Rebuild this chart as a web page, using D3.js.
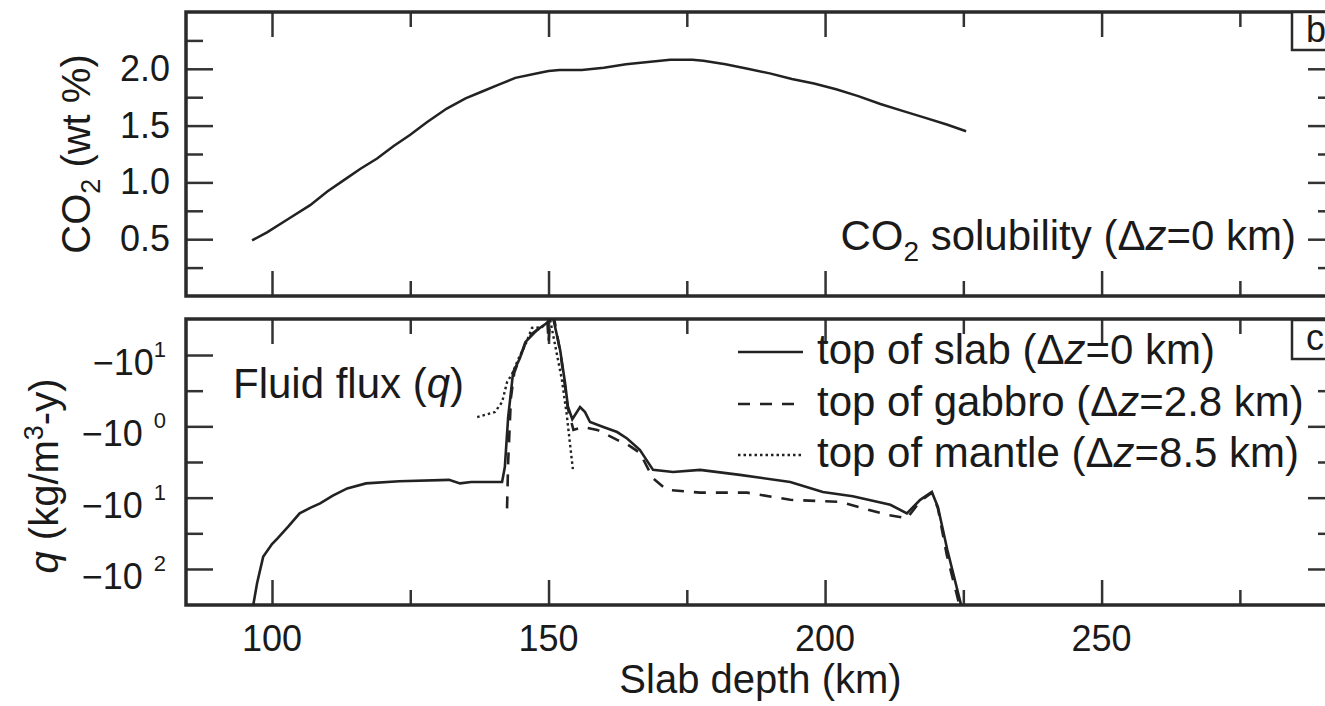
<!DOCTYPE html>
<html>
<head>
<meta charset="utf-8">
<script src="https://cdn.jsdelivr.net/npm/d3@7"></script>
<style>
  body { margin: 0; background: #fff; }
  svg text { font-family: "Liberation Sans", Arial, sans-serif; fill: #1a1a1a; }
</style>
</head>
<body>
<div id="chart"></div>
<script>
// CO2 solubility, panel b
var co2Depth = [96.4, 99.1, 103, 106.9, 110, 113, 116, 119, 122, 125, 128, 131.6, 135, 138, 141, 144, 148, 150, 152, 156, 160, 164, 168, 172, 176, 178, 182, 186, 190, 194, 198, 202, 206, 210, 214, 218, 222, 225.5];
var co2Wt    = [0.49, 0.56, 0.68, 0.80, 0.92, 1.02, 1.12, 1.21, 1.32, 1.42, 1.53, 1.65, 1.74, 1.80, 1.86, 1.92, 1.96, 1.98, 1.99, 1.99, 2.01, 2.04, 2.06, 2.08, 2.08, 2.07, 2.04, 2.00, 1.96, 1.91, 1.87, 1.82, 1.76, 1.69, 1.63, 1.57, 1.51, 1.45];

// fluid flux, panel c (log10 of |q|)
var slabDepth = [96.4, 97.3, 98.4, 100, 101, 103, 105, 107, 108.7, 111, 113.6, 117, 123, 132, 134, 136, 141.6, 142.1, 142.7, 143.6, 144.8, 145.8, 147.9, 149.9, 150.6, 152.1, 153, 153.5, 154.3, 155.7, 156.6, 157.5, 159.9, 162.4, 164.2, 166.5, 168.9, 172.5, 177.4, 184.6, 193.7, 199.6, 205, 211.8, 214.8, 217.2, 219.3, 220.4, 222.1, 224.9];
var slabLogQ  = [-2.6, -2.2, -1.83, -1.65, -1.57, -1.4, -1.22, -1.14, -1.08, -0.97, -0.87, -0.8, -0.77, -0.75, -0.8, -0.78, -0.78, -0.57, 0.13, 0.76, 0.95, 1.18, 1.35, 1.46, 1.6, 1.07, 0.6, 0.28, 0.1, 0.27, 0.2, 0.06, -0.01, -0.08, -0.17, -0.33, -0.61, -0.64, -0.61, -0.68, -0.78, -0.92, -0.98, -1.1, -1.22, -1.03, -0.92, -1.13, -1.73, -2.6];

var gabbroDepth = [142.5, 142.7, 143.2, 143.8, 145, 146, 147, 148.5, 149.8, 150.0, 150.3, 151, 152.2, 153, 153.5, 154.5, 156.2, 158.8, 162.4, 164.2, 166.5, 168.9, 171.4, 177.4, 185.9, 193.7, 202.7, 211.2, 214.8, 217.2, 219.3, 220.4, 222, 224.6];
var gabbroLogQ  = [-1.15, -0.5, 0.4, 0.75, 1.0, 1.2, 1.3, 1.38, 1.46, 1.18, 1.5, 1.52, 1.0, 0.55, 0.25, -0.05, -0.01, -0.05, -0.19, -0.25, -0.37, -0.73, -0.89, -0.93, -0.93, -1.03, -1.06, -1.24, -1.29, -1.05, -0.93, -1.15, -1.8, -2.6];

var mantleDepth = [137.1, 140.3, 141.6, 142.5, 143.4, 144.5, 145.8, 147, 148.8, 150.3, 152.4, 153.3, 153.9, 154.4];
var mantleLogQ  = [0.13, 0.2, 0.34, 0.62, 0.73, 0.94, 1.14, 1.38, 1.39, 1.49, 0.66, 0.16, -0.26, -0.6];

var xMajor = [100, 150, 200, 250];
var xMinor = [125, 175, 225, 275];
var co2Major = [0.5, 1.0, 1.5, 2.0];
var co2Minor = [0.25, 0.75, 1.25, 1.75, 2.25];
var qMajor = [1, 0, -1, -2];
var qSup = ["1", "\u20020", "\u20021", "\u20022"];
var qMinor = [0.5, -0.5, -1.5];

var width = 1325, height = 706;
var left = 186, right = 1335;

var svg = d3.select("#chart").append("svg")
            .attr("width", width)
            .attr("height", height);

var x = d3.scaleLinear().domain([84.45, 292.2]).range([left, right]);
var yTop = d3.scaleLinear().domain([0, 2.5]).range([296, 12]);
var yBot = d3.scaleLinear().domain([-2.505, 1.505]).range([605, 319]);

function ticks(g, axis) {
  g.call(axis);
  g.select(".domain").remove();
  g.selectAll(".tick line").attr("stroke", "#333").attr("stroke-width", 2.5);
  g.selectAll(".tick text").remove();
}

// frames, ticks
function panel(top, bottom, cls) {
  svg.append("defs").append("clipPath").attr("id", cls)
     .append("rect").attr("x", left).attr("y", top).attr("width", right - left).attr("height", bottom - top);

  ticks(svg.append("g").attr("transform", "translate(0," + bottom + ")"),
        d3.axisTop(x).tickValues(xMajor).tickSize(25));
  ticks(svg.append("g").attr("transform", "translate(0," + bottom + ")"),
        d3.axisTop(x).tickValues(xMinor).tickSize(15));
  ticks(svg.append("g").attr("transform", "translate(0," + top + ")"),
        d3.axisBottom(x).tickValues(xMajor).tickSize(25));
  ticks(svg.append("g").attr("transform", "translate(0," + top + ")"),
        d3.axisBottom(x).tickValues(xMinor).tickSize(15));
}

panel(12, 296, "clipTop");
panel(319, 605, "clipBot");

// y ticks
[[co2Major, 27], [co2Minor, 17]].forEach(function(t) {
  ticks(svg.append("g").attr("transform", "translate(" + left + ",0)"),
        d3.axisRight(yTop).tickValues(t[0]).tickSize(t[1]));
  ticks(svg.append("g").attr("transform", "translate(" + right + ",0)"),
        d3.axisLeft(yTop).tickValues(t[0]).tickSize(t[1]));
});
[[qMajor, 27], [qMinor, 17]].forEach(function(t) {
  ticks(svg.append("g").attr("transform", "translate(" + left + ",0)"),
        d3.axisRight(yBot).tickValues(t[0]).tickSize(t[1]));
  ticks(svg.append("g").attr("transform", "translate(" + right + ",0)"),
        d3.axisLeft(yBot).tickValues(t[0]).tickSize(t[1]));
});

[[12, 296], [319, 605]].forEach(function(p) {
  svg.append("rect")
     .attr("x", left).attr("y", p[0])
     .attr("width", right - left).attr("height", p[1] - p[0])
     .attr("fill", "none").attr("stroke", "#2a2a2a").attr("stroke-width", 3.5);
});

// tick labels
svg.selectAll(".co2lab").data(co2Major).enter().append("text")
   .attr("x", 170).attr("y", function(d){ return yTop(d) + 12; })
   .attr("text-anchor", "end").style("font-size", "36px")
   .text(function(d){ return d.toFixed(1); });

var ql = svg.selectAll(".qlab").data(qMajor).enter().append("text")
   .attr("x", 166).attr("y", function(d){ return yBot(d) + 20; })
   .attr("text-anchor", "end").style("font-size", "36px")
   .style("white-space", "pre");
ql.append("tspan").text("\u221210");
ql.append("tspan").attr("dy", -18).style("font-size", "22px")
  .text(function(d, i){ return qSup[i]; });

svg.selectAll(".xlab").data(xMajor).enter().append("text")
   .attr("x", function(d){ return x(d); }).attr("y", 651)
   .attr("text-anchor", "middle").style("font-size", "36px")
   .text(function(d){ return d; });

svg.append("text").attr("x", (left + right) / 2).attr("y", 693)
   .attr("text-anchor", "middle").style("font-size", "40px")
   .text("Slab depth (km)");

// y titles
var t1 = svg.append("text").attr("transform", "translate(90,154) rotate(-90)")
   .attr("text-anchor", "middle").style("font-size", "40px");
t1.append("tspan").text("CO");
t1.append("tspan").attr("dy", 10).style("font-size", "27px").text("2");
t1.append("tspan").attr("dy", -10).text(" (wt %)");

var t2 = svg.append("text").attr("transform", "translate(58,476) rotate(-90)")
   .attr("text-anchor", "middle").style("font-size", "40px");
t2.append("tspan").style("font-style", "italic").text("q");
t2.append("tspan").text(" (kg/m");
t2.append("tspan").attr("dy", -15).style("font-size", "27px").text("3");
t2.append("tspan").attr("dy", 15).text("-y)");

// lines
var line = function(y) {
  return d3.line().x(function(d){ return x(d[0]); }).y(function(d){ return y(d[1]); });
};

svg.append("path")
   .attr("clip-path", "url(#clipTop)")
   .attr("d", line(yTop)(d3.zip(co2Depth, co2Wt)))
   .attr("fill", "none").attr("stroke", "#222").attr("stroke-width", 2.5);

var series = [
  {depth: slabDepth, q: slabLogQ, dash: null, w: 2.6},
  {depth: gabbroDepth, q: gabbroLogQ, dash: "12,10", w: 2.6},
  {depth: mantleDepth, q: mantleLogQ, dash: "2.5,3", w: 2.4}
];
series.forEach(function(s) {
  svg.append("path")
     .attr("clip-path", "url(#clipBot)")
     .attr("d", line(yBot)(d3.zip(s.depth, s.q)))
     .attr("fill", "none").attr("stroke", "#222")
     .attr("stroke-width", s.w)
     .attr("stroke-dasharray", s.dash);
});

// annotations
var a1 = svg.append("text").attr("x", 1296).attr("y", 250)
   .attr("text-anchor", "end").style("font-size", "42px");
a1.append("tspan").text("CO");
a1.append("tspan").attr("dy", 11).style("font-size", "28px").text("2");
a1.append("tspan").attr("dy", -11).text(" solubility (\u0394");
a1.append("tspan").style("font-style", "italic").text("z");
a1.append("tspan").text("=0 km)");

var a2 = svg.append("text").attr("x", 233).attr("y", 398).style("font-size", "42px");
a2.append("tspan").text("Fluid flux (");
a2.append("tspan").style("font-style", "italic").text("q");
a2.append("tspan").text(")");

var legendNames = ["top of slab", "top of gabbro", "top of mantle"];
var legendDz = ["0", "2.8", "8.5"];
var legendY = [352, 404, 455];
series.forEach(function(s, i) {
  svg.append("line").attr("x1", 738).attr("x2", 803)
     .attr("y1", legendY[i]).attr("y2", legendY[i])
     .attr("stroke", "#222").attr("stroke-width", s.w)
     .attr("stroke-dasharray", s.dash);
  var t = svg.append("text").attr("x", 817).attr("y", legendY[i] + 12).style("font-size", "42px");
  t.append("tspan").text(legendNames[i] + " (\u0394");
  t.append("tspan").style("font-style", "italic").text("z");
  t.append("tspan").text("=" + legendDz[i] + " km)");
});

// panel letters
[["b", 12, 38], ["c", 320, 39]].forEach(function(p) {
  svg.append("rect").attr("x", 1292).attr("y", p[1]).attr("width", 60).attr("height", p[2])
     .attr("fill", "#fff").attr("stroke", "#2a2a2a").attr("stroke-width", 2.5);
  svg.append("text").attr("x", 1306).attr("y", p[1] + 30).style("font-size", "36px").text(p[0]);
});
</script>
</body>
</html>
